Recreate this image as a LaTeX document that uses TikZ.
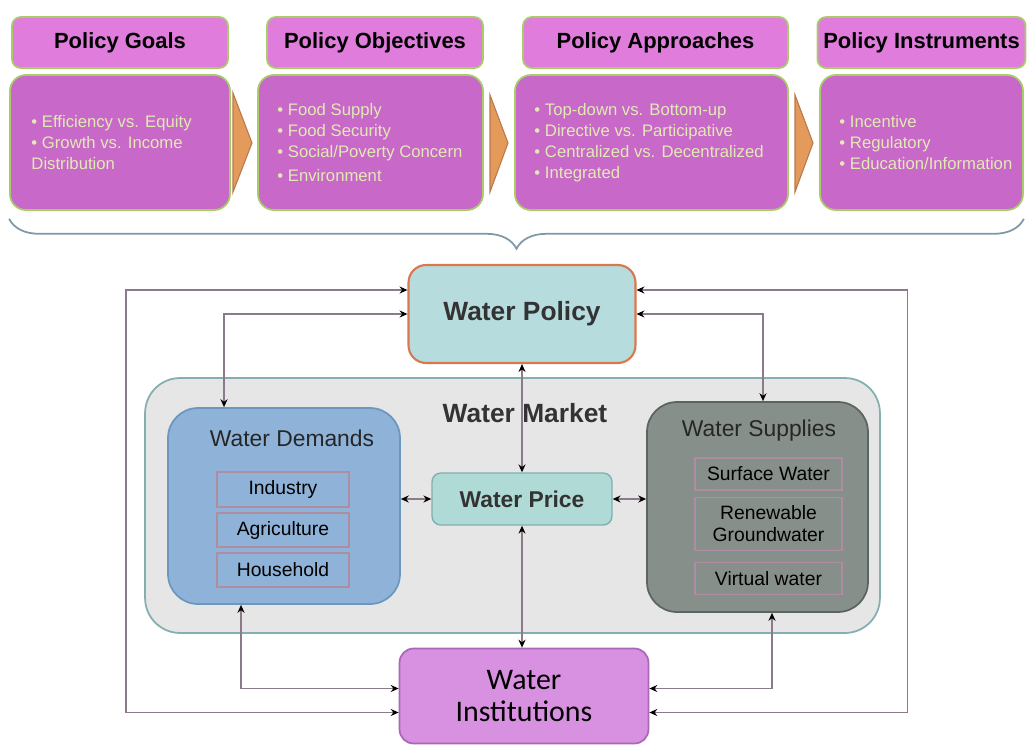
\documentclass[tikz,border=0pt]{standalone}
\usepackage{fontspec}
\setmainfont{Liberation Sans}
\newfontfamily\instfont{Carlito}
\usepackage{tikz}
\usetikzlibrary{arrows.meta,calc,decorations.pathreplacing}
\usepackage{xcolor}

\definecolor{headpink}{HTML}{E07CDC}
\definecolor{bodypink}{HTML}{C868C8}
\definecolor{leafgreen}{HTML}{A8CC68}
\definecolor{bodytext}{HTML}{E2EAB4}
\definecolor{chevfill}{HTML}{E39A5A}
\definecolor{chevedge}{HTML}{B8784C}
\definecolor{policycyan}{HTML}{B6DCDE}
\definecolor{policyedge}{HTML}{D8784C}
\definecolor{marketgray}{HTML}{E6E6E6}
\definecolor{marketedge}{HTML}{84AEB0}
\definecolor{demandblue}{HTML}{8EB2D8}
\definecolor{demandedge}{HTML}{6C98C0}
\definecolor{supplygray}{HTML}{878F8B}
\definecolor{supplyedge}{HTML}{5C6460}
\definecolor{sectoredge}{HTML}{B08CA0}
\definecolor{pricecyan}{HTML}{B0DAD6}
\definecolor{priceedge}{HTML}{80B0B0}
\definecolor{instviolet}{HTML}{D890E0}
\definecolor{instedge}{HTML}{A868B8}
\definecolor{linkcol}{HTML}{8A7A8A}
\definecolor{bracecol}{HTML}{7E98A8}

\begin{document}
\begin{tikzpicture}[
        x=0.02cm, y=-0.02cm,
        >={Stealth[length=4.5pt,width=4pt,black]},
        head/.style={draw=leafgreen, line width=1pt, fill=headpink, rounded corners=5pt,
                     minimum height=1.02cm, font=\fontsize{12.5}{15}\selectfont\bfseries},
        body/.style={draw=leafgreen, line width=1pt, fill=bodypink, rounded corners=9pt,
                     minimum height=2.7cm},
        bullets/.style={align=left, text=bodytext, inner sep=0pt,
                        font=\fontsize{9.5}{12}\selectfont},
        chev/.style={fill=chevfill, draw=chevedge, line width=0.6pt},
        bigbox/.style={line width=1pt, rounded corners=14pt},
        sector/.style={draw=sectoredge, line width=0.8pt, minimum width=2.64cm,
                       font=\fontsize{11}{12.5}\selectfont, align=center},
        link/.style={<->, draw=linkcol, line width=1pt},
    ]
        \useasboundingbox (0,0) rectangle (1036,751);

        % --- Policy headers ---
        \node[head, minimum width=4.32cm] (goalshead) at (120,42.5)   {Policy Goals};
        \node[head, minimum width=4.32cm] (objhead)   at (375,42.5)   {Policy Objectives};
        \node[head, minimum width=5.3cm]  (apphead)   at (655.5,42.5) {Policy Approaches};
        \node[head, minimum width=4.06cm] (insthead)  at (921.5,42.5) {Policy Instruments};

        % --- Policy bodies ---
        \node[body, minimum width=4.4cm]  (goalsbody) at (120,142.5)   {};
        \node[body, minimum width=4.5cm]  (objbody)   at (370.5,142.5) {};
        \node[body, minimum width=5.46cm] (appbody)   at (651.5,142.5) {};
        \node[body, minimum width=4.06cm] (instbody)  at (921.5,142.5) {};

        \node[bullets, anchor=west] (goalstxt) at ([xshift=.44cm]goalsbody.west)
            {• Efficiency vs. Equity\\• Growth vs. Income\\Distribution};
        \node[bullets, anchor=west] (objtxt) at ([xshift=.4cm]objbody.west)
            {• Food Supply\\• Food Security\\• Social/Poverty Concern\\[2pt]• Environment};
        \node[bullets, anchor=west] (apptxt) at ([xshift=.4cm]appbody.west)
            {• Top-down vs. Bottom-up\\• Directive vs. Participative\\• Centralized vs. Decentralized\\• Integrated};
        \node[bullets, anchor=west] (insttxt) at ([xshift=.4cm]instbody.west)
            {• Incentive\\• Regulatory\\• Education/Information};

        % --- Chevrons between bodies ---
        \filldraw[chev] (233,93) -- (252,143) -- (233,192) -- cycle;
        \filldraw[chev] (490,95) -- (508,143) -- (490,192) -- cycle;
        \filldraw[chev] (795,95) -- (813,143) -- (795,192) -- cycle;

        % --- Brace ---
        \draw[bracecol, line width=1pt, decorate, decoration={brace, mirror, amplitude=17pt}]
            ([yshift=-.16cm]goalsbody.south west) -- ([yshift=-.16cm]instbody.south east);

        % --- Water market ---
        \node[bigbox, draw=marketedge, fill=marketgray, rounded corners=0.7cm,
              minimum width=14.7cm, minimum height=5.1cm] (market) at (512.5,505.5) {};
        \node[font=\fontsize{15}{17}\selectfont\bfseries, text=black!80] (marketlbl) at (525,413) {Water Market};

        \node[bigbox, draw=demandedge, fill=demandblue, rounded corners=0.6cm,
              minimum width=4.64cm, minimum height=3.92cm] (demands) at (284,506) {};
        \node[font=\fontsize{13}{15}\selectfont, text=black!85] (demandlbl) at (292,438) {Water Demands};
        \node[sector, minimum height=0.7cm] (industry)  at (283,489.5) {Industry};
        \node[sector, minimum height=0.68cm] (agri)     at (283,530)   {Agriculture};
        \node[sector, minimum height=0.68cm] (house)    at (283,570)   {Household};

        \node[bigbox, draw=supplyedge, fill=supplygray, rounded corners=0.6cm,
              minimum width=4.42cm, minimum height=4.2cm] (supplies) at (757.5,507) {};
        \node[font=\fontsize{13}{15}\selectfont, text=black!85] (supplylbl) at (759,431) {Water Supplies};
        \node[sector, minimum width=2.94cm, minimum height=0.64cm] (surface) at (768.5,474)   {Surface Water};
        \node[sector, minimum width=2.94cm, minimum height=1.06cm] (ground)  at (768.5,524)   {Renewable\\Groundwater};
        \node[sector, minimum width=2.94cm, minimum height=0.64cm] (virtual) at (768.5,578.5) {Virtual water};

        \node[draw=priceedge, line width=0.8pt, fill=pricecyan, rounded corners=5pt,
              minimum width=3.6cm, minimum height=1.04cm,
              font=\fontsize{13}{15}\selectfont\bfseries, text=black!80] (price) at (522,499) {Water Price};

        % --- Policy and institutions ---
        \node[draw=policyedge, line width=1.2pt, fill=policycyan, rounded corners=10pt,
              minimum width=4.54cm, minimum height=1.96cm,
              font=\fontsize{15}{17}\selectfont\bfseries, text=black!80] (policy) at (522,314) {Water Policy};
        \node[draw=instedge, line width=1pt, fill=instviolet, rounded corners=8pt,
              minimum width=4.98cm, minimum height=1.9cm, align=center,
              font=\instfont\fontsize{17}{21}\selectfont] (inst) at (524,696) {\raisebox{-3pt}{Water}\\Institutions};

        % --- Arrows ---
        \draw[link] ([yshift=.48cm]policy.west) -- ++(-281.5,0) |- ([yshift=-.33cm]inst.west);
        \draw[link] ([yshift=.48cm]policy.east) -- ++(271,0) |- ([yshift=-.33cm]inst.east);
        \draw[link] (policy.west) -| ([xshift=-1.2cm]demands.north);
        \draw[link] (policy.east) -| ([xshift=.11cm]supplies.north);
        \draw[link] (policy.south) -- (price.north);
        \draw[link] (price.south) -- (price.south |- inst.north);
        \draw[link] (price.west) -- (price.west -| demands.east);
        \draw[link] (price.east) -- (price.east -| supplies.west);
        \draw[link] ([xshift=-.86cm]demands.south) |- ([yshift=.15cm]inst.west);
        \draw[link] ([xshift=.29cm]supplies.south) |- ([yshift=.15cm]inst.east);

    \end{tikzpicture}
\end{document}
